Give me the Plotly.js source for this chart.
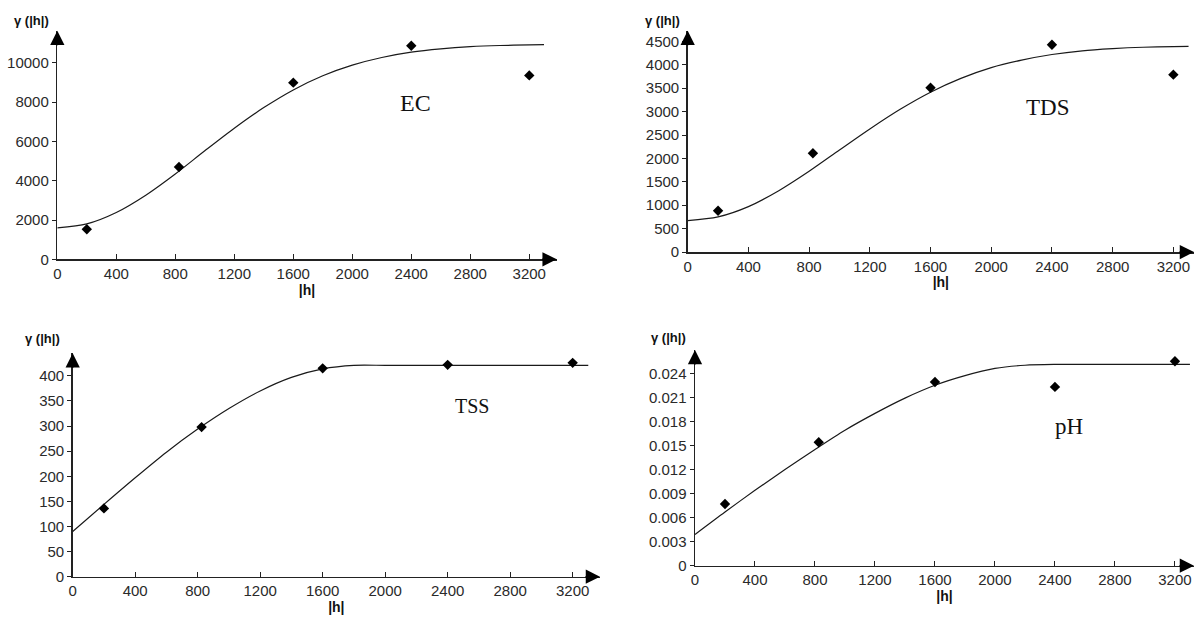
<!DOCTYPE html>
<html><head><meta charset="utf-8">
<script src="https://cdn.plot.ly/plotly-3.0.1.min.js"></script>
<style>html,body{margin:0;padding:0;background:#fff}#chart{width:1196px;height:617px}</style>
</head><body><div id="chart"></div>
<script>
// ---------- data ----------
const lagPoints = [200, 825, 1600, 2400, 3200];
const ecPoints  = [1530, 4700, 8990, 10870, 9360];
const tdsPoints = [880, 2110, 3510, 4430, 3790];
const tssPoints = [136, 298, 415, 422, 426];
const phPoints  = [0.0077, 0.0154, 0.0229, 0.0223, 0.0255];

const curveLag = [0,200,400,600,800,1000,1200,1400,1600,1800,2000,2200,2400,2600,2800,3000,3200,3300];
const ecCurve  = [1600,1800,2380,3260,4340,5520,6670,7720,8620,9340,9880,10270,10540,10710,10820,10880,10910,10930];
const tdsCurve = [670,750,970,1310,1725,2180,2630,3050,3415,3710,3940,4100,4220,4300,4345,4375,4390,4395];
const tssCurve = [90,144,197,248,294,335,370,397,414,421,421,421,421,421,421,421,421,421];
const phCurve  = [0.0039,0.0067,0.0094,0.0120,0.0145,0.0169,0.0190,0.0209,0.0225,0.0237,0.0246,0.0250,0.0251,0.0251,0.0251,0.0251,0.0251,0.0251];

const xTicks = [0,400,800,1200,1600,2000,2400,2800,3200];
const ecTicks  = [0,2000,4000,6000,8000,10000];
const tdsTicks = [0,500,1000,1500,2000,2500,3000,3500,4000,4500];
const tssTicks = [0,50,100,150,200,250,300,350,400];
const phTicks  = [0,0.003,0.006,0.009,0.012,0.015,0.018,0.021,0.024];
const phTickText = ['0','0.003','0.006','0.009','0.012','0.015','0.018','0.021','0.024'];
const panelNames = ['EC','TDS','TSS','pH'];
const yTitle = 'γ (|h|)';
const xTitle = '|h|';

// ---------- layout helpers ----------
const W = 1196, H = 617;
const panels = [
  {pts: ecPoints,  curve: ecCurve,  ticks: ecTicks,  text: null,
   x0: 57.3, xEnd: 556.7, xMax: 3386, y0: 259.3, yEnd: 30.7, yMax: 11634,
   lab: [415, 103], labSize: 24, yt: [31, 20]},
  {pts: tdsPoints, curve: tdsCurve, ticks: tdsTicks, text: null,
   x0: 687.7, xEnd: 1194, xMax: 3336, y0: 252, yEnd: 30.7, yMax: 4729,
   lab: [1047, 108], labSize: 23, yt: [662, 20]},
  {pts: tssPoints, curve: tssCurve, ticks: tssTicks, text: null,
   x0: 72.7, xEnd: 600, xMax: 3375, y0: 576.7, yEnd: 353.3, yMax: 445,
   lab: [472, 406], labSize: 20, yt: [43, 338]},
  {pts: phPoints,  curve: phCurve,  ticks: phTicks,  text: phTickText,
   x0: 695, xEnd: 1194, xMax: 3327, y0: 565.7, yEnd: 350, yMax: 0.0269,
   lab: [1069, 426], labSize: 23, yt: [668, 337]}
];

const axisColor = '#222';
const tickFont = {family: 'Liberation Sans, Arial, sans-serif', size: 15, color: '#2a2a2a'};
const data = [];
const layout = {
  width: W, height: H, margin: {l:0, r:0, t:0, b:0},
  paper_bgcolor: '#fff', plot_bgcolor: '#fff', showlegend: false,
  annotations: []
};

panels.forEach((p, i) => {
  const n = i + 1;
  const xa = n === 1 ? 'x' : 'x' + n;
  const ya = n === 1 ? 'y' : 'y' + n;
  const xk = n === 1 ? 'xaxis' : 'xaxis' + n;
  const yk = n === 1 ? 'yaxis' : 'yaxis' + n;

  data.push({x: curveLag, y: p.curve, xaxis: xa, yaxis: ya, type: 'scatter', mode: 'lines',
    line: {color: '#1a1a1a', width: 1.2, shape: 'spline', smoothing: 0.8}, hoverinfo: 'skip'});
  data.push({x: lagPoints, y: p.pts, xaxis: xa, yaxis: ya, type: 'scatter', mode: 'markers',
    marker: {symbol: 'diamond', size: 8, color: '#000'}});

  layout[xk] = {
    domain: [p.x0 / W, p.xEnd / W], range: [0, p.xMax], anchor: ya,
    showgrid: false, zeroline: false, showline: true, linecolor: axisColor, linewidth: 1.5,
    ticks: 'inside', ticklen: 5, tickwidth: 1, tickcolor: axisColor,
    tickmode: 'array', tickvals: xTicks, tickfont: tickFont,
    title: {text: xTitle, font: {family: 'Liberation Sans, Arial, sans-serif', size: 14, color: '#111', weight: 'bold'}, standoff: 3}
  };
  layout[yk] = {
    domain: [(H - p.y0) / H, (H - p.yEnd) / H], range: [0, p.yMax], anchor: xa,
    showgrid: false, zeroline: false, showline: true, linecolor: axisColor, linewidth: 1.5,
    ticks: 'outside', ticklen: 4, tickwidth: 1, tickcolor: axisColor,
    tickmode: 'array', tickvals: p.ticks, ticktext: p.text || p.ticks.map(String), tickfont: tickFont
  };

  // arrowheads at axis ends
  layout.annotations.push({xref: xa + ' domain', yref: ya + ' domain', x: 1, y: 0, ax: -16, ay: 0,
    text: '', showarrow: true, arrowhead: 2, arrowsize: 1.9, arrowwidth: 1.5, arrowcolor: '#000'});
  layout.annotations.push({xref: xa + ' domain', yref: ya + ' domain', x: 0, y: 1, ax: 0, ay: 16,
    text: '', showarrow: true, arrowhead: 2, arrowsize: 1.9, arrowwidth: 1.5, arrowcolor: '#000'});
  // y-axis label
  layout.annotations.push({xref: 'paper', yref: 'paper', x: p.yt[0] / W, y: 1 - p.yt[1] / H,
    xanchor: 'center', yanchor: 'middle', showarrow: false, text: '<b>' + yTitle + '</b>',
    font: {family: 'Liberation Sans, Arial, sans-serif', size: 13, color: '#111'}});
  // panel name
  layout.annotations.push({xref: 'paper', yref: 'paper', x: p.lab[0] / W, y: 1 - p.lab[1] / H,
    xanchor: 'center', yanchor: 'middle', showarrow: false, text: panelNames[i],
    font: {family: 'Liberation Serif, Times New Roman, serif', size: p.labSize, color: '#111'}});
});

Plotly.newPlot('chart', data, layout, {displayModeBar: false, staticPlot: true});
</script></body></html>
